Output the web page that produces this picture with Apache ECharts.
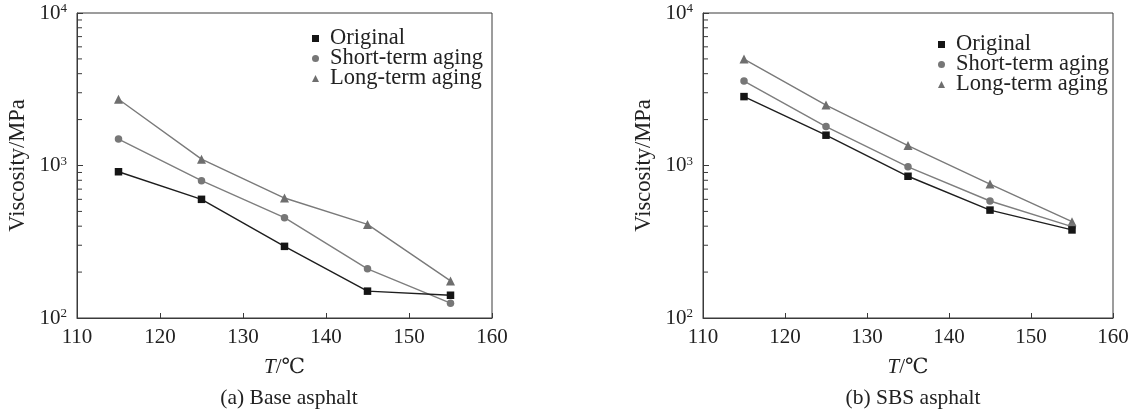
<!DOCTYPE html>
<html>
<head>
<meta charset="utf-8">
<script src="https://cdn.jsdelivr.net/npm/echarts@6/dist/echarts.min.js"></script>
<style>
  html, body { margin: 0; padding: 0; background: #fff; }
  #chart { width: 1141px; height: 411px; }
</style>
</head>
<body>
<div id="chart"></div>
<script>
// Temperatures (°C) at which viscosity was measured
const temperatures = [115, 125, 135, 145, 155];

// (a) Base asphalt viscosity (MPa)
const baseOriginal = [910, 600, 295, 150, 141];
const baseShortTerm = [1490, 795, 455, 210, 125];
const baseLongTerm = [2720, 1100, 612, 411, 175];

// (b) SBS asphalt viscosity (MPa)
const sbsOriginal = [2830, 1580, 850, 510, 378];
const sbsShortTerm = [3580, 1800, 980, 585, 397];
const sbsLongTerm = [4990, 2490, 1350, 756, 428];

const seriesNames = ['Original', 'Short-term aging', 'Long-term aging'];
const xTicks = [110, 120, 130, 140, 150, 160];
const minorTickValues = [200, 300, 400, 500, 600, 700, 800, 900,
                         2000, 3000, 4000, 5000, 6000, 7000, 8000, 9000];
const panelTitles = ['(a) Base asphalt', '(b) SBS asphalt'];

const FONT = '"Liberation Serif", "DejaVu Serif", serif';
const TEXT = '#222';
const AXIS = '#3a3a3a';

const styles = [
  { symbol: 'rect', size: 7.5, color: '#151515', line: '#1e1e1e', icon: 'rect' },
  { symbol: 'circle', size: 7.5, color: '#777777', line: '#7e7e7e', icon: 'circle' },
  { symbol: 'triangle', size: 9, color: '#6e6e6e', line: '#7a7a7a', icon: 'triangle' }
];

const grids = [
  { left: 77, top: 13, width: 415, height: 305, show: true, borderColor: AXIS, borderWidth: 1 },
  { left: 703, top: 13, width: 410, height: 305, show: true, borderColor: AXIS, borderWidth: 1 }
];

function makeX(i) {
  return {
    type: 'value', gridIndex: i, min: xTicks[0], max: xTicks[xTicks.length - 1], interval: 10,
    axisLine: { show: true, onZero: false, lineStyle: { color: AXIS, width: 1 } },
    axisTick: { show: true, inside: true, length: 5, lineStyle: { color: AXIS } },
    splitLine: { show: false },
    axisLabel: { color: TEXT, fontFamily: FONT, fontSize: 21, margin: 9 },
    name: '{i|T}/℃', nameLocation: 'middle', nameGap: 39,
    nameTextStyle: {
      color: TEXT, fontFamily: FONT, fontSize: 21,
      rich: { i: { fontStyle: 'italic', fontFamily: FONT, fontSize: 21, color: TEXT } }
    }
  };
}

function makeY(i) {
  return {
    type: 'log', gridIndex: i, logBase: 10, min: 100, max: 10000, interval: 1,
    axisLine: { show: true, lineStyle: { color: AXIS, width: 1 } },
    axisTick: { show: true, inside: true, length: 6, lineStyle: { color: AXIS } },
    splitLine: { show: false },
    axisLabel: {
      margin: 10,
      formatter: function (v) {
        const e = Math.round(Math.log10(v));
        return '{b|10}{s|' + e + '}';
      },
      rich: {
        b: { fontFamily: FONT, fontSize: 21, color: TEXT, lineHeight: 21 },
        s: { fontFamily: FONT, fontSize: 13, color: TEXT, verticalAlign: 'top', lineHeight: 13 }
      }
    },
    name: 'Viscosity/MPa', nameLocation: 'middle', nameGap: 47, nameRotate: 90,
    nameTextStyle: { color: TEXT, fontFamily: FONT, fontSize: 22.5 }
  };
}

const panels = [
  [baseOriginal, baseShortTerm, baseLongTerm],
  [sbsOriginal, sbsShortTerm, sbsLongTerm]
];

const series = [];
panels.forEach(function (set, g) {
  set.forEach(function (vals, k) {
    const st = styles[k];
    series.push({
      name: seriesNames[k], type: 'line', xAxisIndex: g, yAxisIndex: g,
      data: temperatures.map(function (t, j) { return [t, vals[j]]; }),
      symbol: st.symbol, symbolSize: st.size, showSymbol: true,
      itemStyle: { color: st.color },
      lineStyle: { color: st.line, width: 1.4 },
      z: 3 + (2 - k),
      animation: false
    });
  });
  // minor log ticks along the left axis
  series.push({
    type: 'custom', xAxisIndex: g, yAxisIndex: g, silent: true, animation: false,
    data: minorTickValues.map(function (v) { return [xTicks[0], v]; }),
    renderItem: function (params, api) {
      const p = api.coord([api.value(0), api.value(1)]);
      return {
        type: 'line',
        shape: { x1: p[0], y1: p[1], x2: p[0] + 5, y2: p[1] },
        style: { stroke: AXIS, lineWidth: 1 }
      };
    }
  });
});

function makeLegend(left, top) {
  return {
    left: left, top: top, orient: 'vertical', itemGap: -3, padding: 0,
    itemWidth: 7, itemHeight: 7, selectedMode: false,
    data: seriesNames.map(function (n, k) {
      return { name: n, icon: styles[k].icon, itemStyle: { color: styles[k].color } };
    }),
    textStyle: { color: TEXT, fontFamily: FONT, fontSize: 22.5, padding: [0, 0, 0, 6] }
  };
}

const chart = echarts.init(document.getElementById('chart'), null, { renderer: 'canvas' });
chart.setOption({
  backgroundColor: '#fff',
  animation: false,
  grid: grids,
  xAxis: [makeX(0), makeX(1)],
  yAxis: [makeY(0), makeY(1)],
  legend: [makeLegend(312, 27), makeLegend(938, 33)],
  title: [
    { text: panelTitles[0], left: 284, top: 382, textAlign: 'center',
      textStyle: { color: TEXT, fontFamily: FONT, fontSize: 21.5, fontWeight: 'normal' } },
    { text: panelTitles[1], left: 908, top: 382, textAlign: 'center',
      textStyle: { color: TEXT, fontFamily: FONT, fontSize: 21.5, fontWeight: 'normal' } }
  ],
  series: series
});
</script>
</body>
</html>
